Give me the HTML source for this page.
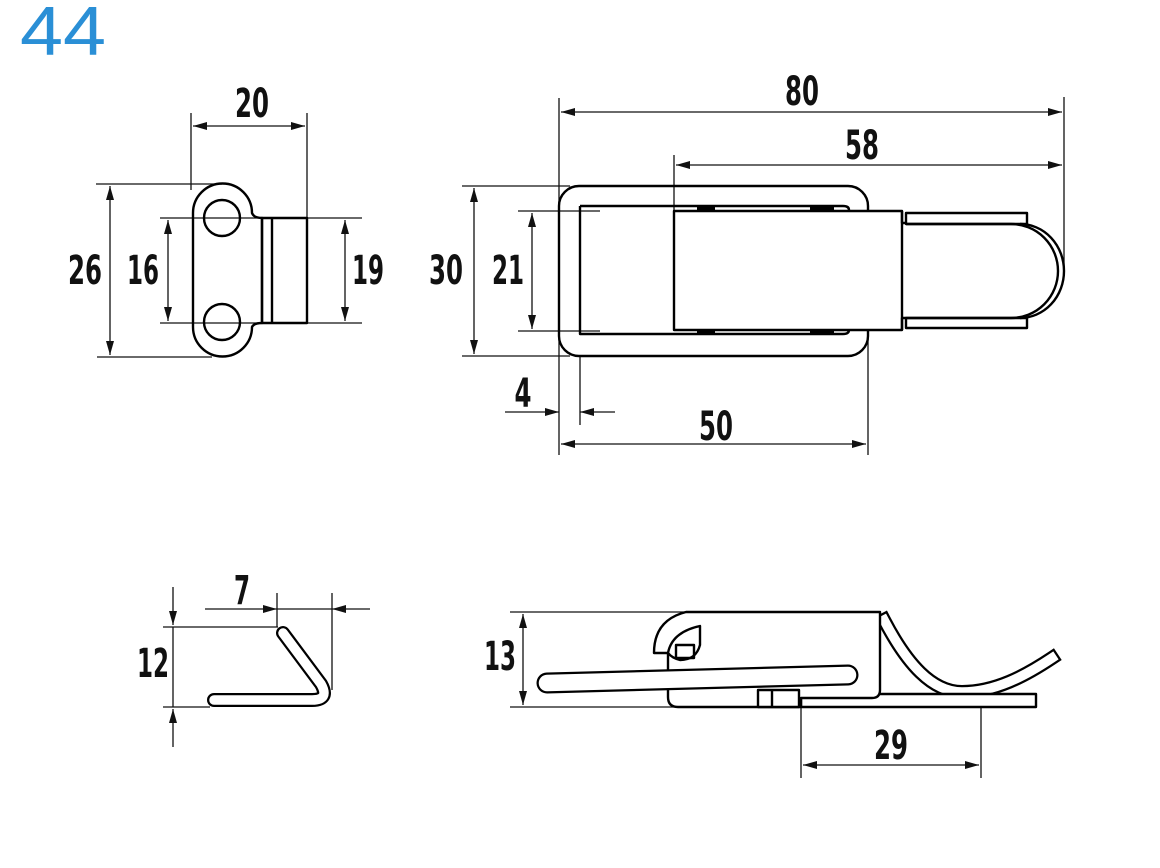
<!DOCTYPE html>
<html><head><meta charset="utf-8"><style>
html,body{margin:0;padding:0;background:#fff;width:1160px;height:868px;overflow:hidden}
svg{display:block}
.t{font-family:"Liberation Sans Narrow","DejaVu Sans Condensed","Liberation Sans",sans-serif;font-weight:bold;font-size:40px;fill:#111;text-anchor:middle}
</style></head><body>
<svg width="1160" height="868" viewBox="0 0 1160 868" xmlns="http://www.w3.org/2000/svg">
<defs>
<marker id="a" viewBox="0 0 14 8" refX="14" refY="4" markerWidth="14" markerHeight="8" markerUnits="userSpaceOnUse" orient="auto-start-reverse">
<path d="M0,0 L14,4 L0,8 z" fill="#111"/></marker>
</defs>
<text x="20" y="55" font-family="Liberation Sans, sans-serif" font-size="70" fill="#2a8fd6" textLength="86" lengthAdjust="spacingAndGlyphs">44</text>

<g stroke="#111" stroke-width="1.3" fill="none">
<line x1="191" y1="113" x2="191" y2="190"/>
<line x1="307" y1="113" x2="307" y2="220"/>
<line x1="193" y1="126" x2="305" y2="126" marker-start="url(#a)" marker-end="url(#a)"/>
<line x1="96" y1="184" x2="222" y2="184"/>
<line x1="97" y1="357" x2="212" y2="357"/>
<line x1="110" y1="186" x2="110" y2="355" marker-start="url(#a)" marker-end="url(#a)"/>
<line x1="160" y1="218" x2="362" y2="218"/>
<line x1="160" y1="323" x2="362" y2="323"/>
<line x1="168" y1="220" x2="168" y2="321" marker-start="url(#a)" marker-end="url(#a)"/>
<line x1="345" y1="220" x2="345" y2="321" marker-start="url(#a)" marker-end="url(#a)"/>

<line x1="559" y1="98" x2="559" y2="455"/>
<line x1="674" y1="155" x2="674" y2="211"/>
<line x1="1064" y1="97" x2="1064" y2="272"/>
<line x1="580" y1="356" x2="580" y2="425"/>
<line x1="868" y1="332" x2="868" y2="455"/>
<line x1="561" y1="112" x2="1062" y2="112" marker-start="url(#a)" marker-end="url(#a)"/>
<line x1="676" y1="165" x2="1062" y2="165" marker-start="url(#a)" marker-end="url(#a)"/>
<line x1="462" y1="186" x2="570" y2="186"/>
<line x1="462" y1="356" x2="570" y2="356"/>
<line x1="518" y1="211" x2="600" y2="211"/>
<line x1="518" y1="331" x2="600" y2="331"/>
<line x1="474" y1="188" x2="474" y2="354" marker-start="url(#a)" marker-end="url(#a)"/>
<line x1="532" y1="213" x2="532" y2="329" marker-start="url(#a)" marker-end="url(#a)"/>
<line x1="505" y1="412" x2="559" y2="412" marker-end="url(#a)"/>
<line x1="615" y1="412" x2="580" y2="412" marker-end="url(#a)"/>
<line x1="561" y1="444" x2="866" y2="444" marker-start="url(#a)" marker-end="url(#a)"/>

<line x1="173" y1="587" x2="173" y2="625" marker-end="url(#a)"/>
<line x1="173" y1="747" x2="173" y2="709" marker-end="url(#a)"/>
<line x1="173" y1="627" x2="173" y2="707"/>
<line x1="163" y1="627" x2="278" y2="627"/>
<line x1="163" y1="707" x2="210" y2="707"/>
<line x1="205" y1="609" x2="277" y2="609" marker-end="url(#a)"/>
<line x1="370" y1="609" x2="332" y2="609" marker-end="url(#a)"/>
<line x1="277" y1="609" x2="332" y2="609"/>
<line x1="277" y1="593" x2="277" y2="627"/>
<line x1="332" y1="593" x2="332" y2="690"/>

<line x1="510" y1="612" x2="880" y2="612"/>
<line x1="510" y1="707" x2="680" y2="707"/>
<line x1="523" y1="614" x2="523" y2="705" marker-start="url(#a)" marker-end="url(#a)"/>
<line x1="801" y1="707" x2="801" y2="778"/>
<line x1="981" y1="707" x2="981" y2="778"/>
<line x1="803" y1="765" x2="979" y2="765" marker-start="url(#a)" marker-end="url(#a)"/>
</g>

<g stroke="#000" stroke-width="2.4" fill="none" stroke-linejoin="round">
<path d="M193,327 L193,213 A29.5,29.5 0 0 1 252,213 Q254,218 262,218 L262,323 Q254,323 252,327 A29.5,29.5 0 0 1 193,327 Z"/>
<circle cx="222" cy="218" r="18"/>
<circle cx="222" cy="322" r="18"/>
<rect x="262" y="218" width="45" height="105"/>
<line x1="272" y1="218" x2="272" y2="323"/>

<rect x="559" y="186" width="309" height="170" rx="20"/>
<path d="M580,206 H843 Q849,206 849,210 M580,206 V334 H843 Q849,334 849,330"/>
<rect x="674" y="211" width="228" height="119" fill="#fff"/>
<path d="M902,211 V223 H906 M902,330 V318 H906"/>
<rect x="906" y="213" width="121" height="11"/>
<rect x="906" y="318" width="121" height="10"/>
<path d="M906,224 H1011 A47,47 0 0 1 1011,318 H906"/>
<path d="M1020,224 A44,47 0 0 1 1020,318"/>
</g>
<g fill="#000">
<rect x="697" y="207" width="18" height="4"/><rect x="810" y="207" width="24" height="4"/>
<rect x="697" y="330" width="18" height="4"/><rect x="810" y="330" width="24" height="4"/>
</g>

<path d="M283,633 L321,684 Q330,700 312,700 L214,700" stroke="#000" stroke-width="14" fill="none" stroke-linecap="round" stroke-linejoin="round"/>
<path d="M283,633 L321,684 Q330,700 312,700 L214,700" stroke="#fff" stroke-width="9.5" fill="none" stroke-linecap="round" stroke-linejoin="round"/>

<g stroke="#000" stroke-width="2.4" fill="none" stroke-linejoin="round">
<path d="M884,620 C907,664 932,692 962,692 C995,692 1025,676 1052,658" stroke-width="14" stroke-linecap="square"/>
<path d="M884,620 C907,664 932,692 962,692 C995,692 1025,676 1052,658" stroke="#fff" stroke-width="9.5" stroke-linecap="square"/>
<rect x="801" y="694" width="235" height="13" fill="#fff"/>
<path d="M686,612 H880 V690 Q880,698 872,698 H801 V707 H678 Q668,707 668,697 V653 H654 Q654,620 686,612 Z" fill="#fff"/>
<path d="M668,653 Q672,632 700,626 L700,645 Q696,660 680,660 Q672,658 668,653"/>
<rect x="676" y="645" width="18" height="13"/>
<rect x="758" y="690" width="41" height="17" fill="#fff"/>
<line x1="772" y1="690" x2="772" y2="707"/>
</g>
<path d="M547,683 L848,675" stroke="#000" stroke-width="21" stroke-linecap="round"/>
<path d="M547,683 L848,675" stroke="#fff" stroke-width="16.5" stroke-linecap="round"/>

<text class="t" x="252" y="117" textLength="34" lengthAdjust="spacingAndGlyphs">20</text>
<text class="t" x="85" y="284" textLength="34" lengthAdjust="spacingAndGlyphs">26</text>
<text class="t" x="143" y="284" textLength="32" lengthAdjust="spacingAndGlyphs">16</text>
<text class="t" x="368" y="284" textLength="32" lengthAdjust="spacingAndGlyphs">19</text>
<text class="t" x="802" y="105" textLength="34" lengthAdjust="spacingAndGlyphs">80</text>
<text class="t" x="862" y="159" textLength="34" lengthAdjust="spacingAndGlyphs">58</text>
<text class="t" x="446" y="284" textLength="34" lengthAdjust="spacingAndGlyphs">30</text>
<text class="t" x="508" y="284" textLength="32" lengthAdjust="spacingAndGlyphs">21</text>
<text class="t" x="523" y="407" textLength="17" lengthAdjust="spacingAndGlyphs">4</text>
<text class="t" x="716" y="440" textLength="34" lengthAdjust="spacingAndGlyphs">50</text>
<text class="t" x="242" y="604" textLength="16" lengthAdjust="spacingAndGlyphs">7</text>
<text class="t" x="153" y="677" textLength="32" lengthAdjust="spacingAndGlyphs">12</text>
<text class="t" x="500" y="670" textLength="32" lengthAdjust="spacingAndGlyphs">13</text>
<text class="t" x="891" y="759" textLength="34" lengthAdjust="spacingAndGlyphs">29</text>
</svg>
</body></html>
